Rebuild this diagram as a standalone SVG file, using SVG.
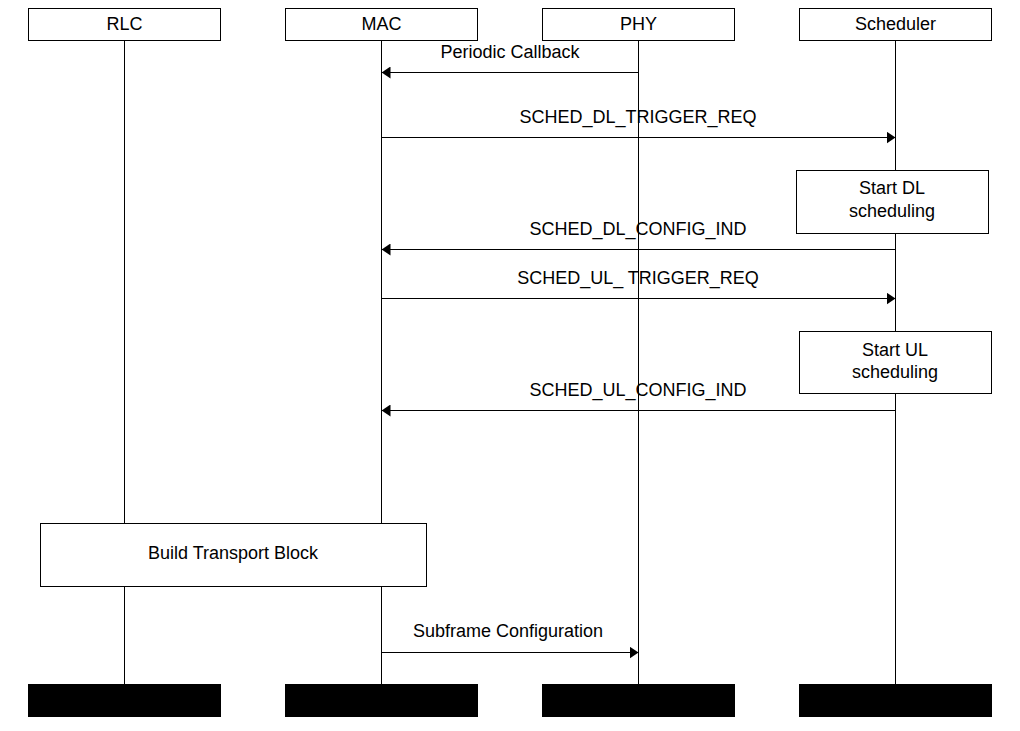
<svg xmlns="http://www.w3.org/2000/svg" width="1020" height="731" viewBox="0 0 1020 731">
<defs>
<marker id="ah" viewBox="0 0 10 10" refX="10" refY="5" markerWidth="9" markerHeight="12" markerUnits="userSpaceOnUse" orient="auto" preserveAspectRatio="none">
<path d="M0,0 L10,5 L0,10 Z" fill="#000"/>
</marker>
</defs>
<style>
text{font-family:"Liberation Sans",Arial,sans-serif;font-size:18px;fill:#000;text-anchor:middle}
.box{fill:#fff;stroke:#000;stroke-width:1}
.foot{fill:#000;stroke:none}
.life{stroke:#000;stroke-width:1}
.msg{stroke:#000;stroke-width:1;fill:none;marker-end:url(#ah)}
</style>
<rect width="1020" height="731" fill="#fff"/>
<g id="lifelines">
<line class="life" x1="124.5" y1="40" x2="124.5" y2="684"/>
<line class="life" x1="381.5" y1="40" x2="381.5" y2="684"/>
<line class="life" x1="638.5" y1="40" x2="638.5" y2="684"/>
<line class="life" x1="895.5" y1="40" x2="895.5" y2="684"/>
</g>
<g id="RLC"><rect class="box" x="28.5" y="8.5" width="192" height="32"/><text x="124.5" y="30">RLC</text><rect class="foot" x="28" y="684" width="193" height="33"/></g>
<g id="MAC"><rect class="box" x="285.5" y="8.5" width="192" height="32"/><text x="381.5" y="30">MAC</text><rect class="foot" x="285" y="684" width="193" height="33"/></g>
<g id="PHY"><rect class="box" x="542.5" y="8.5" width="192" height="32"/><text x="638.5" y="30">PHY</text><rect class="foot" x="542" y="684" width="193" height="33"/></g>
<g id="Scheduler"><rect class="box" x="799.5" y="8.5" width="192" height="32"/><text x="895.5" y="30">Scheduler</text><rect class="foot" x="799" y="684" width="193" height="33"/></g>
<g id="startDL"><rect class="box" x="796.5" y="170.5" width="192" height="63"/><text x="892" y="194">Start DL</text><text x="892" y="217">scheduling</text></g>
<g id="startUL"><rect class="box" x="799.5" y="331.5" width="192" height="62"/><text x="895" y="356">Start UL</text><text x="895" y="378">scheduling</text></g>
<g id="buildTB"><rect class="box" x="40.5" y="523.5" width="386" height="63"/><text x="233" y="559">Build Transport Block</text></g>
<g id="connectors">
<line class="msg" x1="638.5" y1="72.5" x2="381.5" y2="72.5"/>
<line class="msg" x1="381.5" y1="137.5" x2="895.5" y2="137.5"/>
<line class="msg" x1="895.5" y1="249.5" x2="381.5" y2="249.5"/>
<line class="msg" x1="381.5" y1="298.5" x2="895.5" y2="298.5"/>
<line class="msg" x1="895.5" y1="410.5" x2="381.5" y2="410.5"/>
<line class="msg" x1="381.5" y1="652.5" x2="638.5" y2="652.5"/>
<text x="510" y="58">Periodic Callback</text>
<text x="638" y="123">SCHED_DL_TRIGGER_REQ</text>
<text x="638" y="235">SCHED_DL_CONFIG_IND</text>
<text x="638" y="284">SCHED_UL_ TRIGGER_REQ</text>
<text x="638" y="396">SCHED_UL_CONFIG_IND</text>
<text x="508" y="637">Subframe Configuration</text>
</g>
</svg>
